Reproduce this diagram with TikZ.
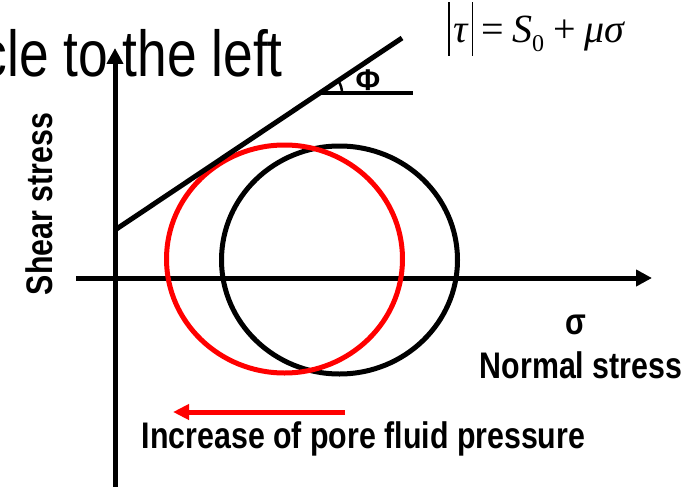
\documentclass[tikz,border=0pt]{standalone}
\usepackage{fontspec}
\setmainfont{Liberation Sans}
\newfontfamily\narrowfont[FakeStretch=0.82]{Liberation Sans}
\newfontfamily\formfont{Liberation Serif}
\usetikzlibrary{arrows.meta}
\begin{document}
\begin{tikzpicture}[x=1pt,y=-1pt,
  thick line/.style={line width=5pt},
  axisline/.style={line width=5pt,-{Triangle[length=16pt,width=16pt]}},
  lab/.style={font=\narrowfont\bfseries\fontsize{37}{40}\selectfont,inner sep=0pt},
  toptext/.style={font=\narrowfont\fontsize{65}{70}\selectfont,inner sep=0pt},
  form/.style={font=\formfont\fontsize{40}{42}\selectfont,inner sep=0pt},
  redc/.style={draw=red,line width=5pt},
  blackc/.style={draw=black,line width=5pt}]
\useasboundingbox (0,0) rectangle (696,487);
% top clipped text
\node[toptext,anchor=base east] (title) at (283,77) {cle to the left};
% axes
\coordinate (ybot) at (115,487);
\coordinate (ytop) at (115,48);
\coordinate (xleft) at (76,278);
\coordinate (xright) at (652,278);
\draw[axisline] (ybot) -- (ytop);
\draw[axisline] (xleft) -- (xright);
% Mohr circles
\coordinate (cb) at (339.5,260);
\coordinate (cr) at (284.5,259);
\draw[blackc] (cb) ellipse [x radius=118pt, y radius=114pt];
\draw[redc] (cr) ellipse [x radius=118pt, y radius=114pt];
% failure envelope
\coordinate (f0) at (115,230);
\coordinate (f1) at (402,38);
\draw[thick line] (f0) -- (f1);
\coordinate (pa) at (320,93);
\coordinate (pb) at (413,93);
\draw[line width=4.5pt] (pa) -- (pb);
\draw[line width=2.5pt] (pa) ++(22,0) arc[start angle=0,end angle=34,radius=22pt];
\node[font=\bfseries\fontsize{30}{30}\selectfont,inner sep=0pt,anchor=base] (phi) at (368,91) {Φ};
% formula
\node[form,anchor=base] (law) at (537,43) {\rule[-13pt]{1.8pt}{54pt}\hspace{3pt}\textit{τ}\hspace{3pt}\rule[-13pt]{1.8pt}{54pt}\hspace{8pt}=\hspace{8pt}\textit{S}\raisebox{-9pt}{\fontsize{24}{24}\selectfont 0}\hspace{9pt}+\hspace{9pt}\textit{μσ}};
% labels
\node[lab,rotate=90,anchor=base] (shear) at (52,204) {Shear stress};
\node[lab] (sig) at (576,325) {σ};
\node[lab,anchor=base] (normal) at (581,378) {Normal stress};
\node[lab,anchor=base] (pore) at (363.5,448) {Increase of pore fluid pressure};
% red arrow
\coordinate (ra) at (345,412);
\coordinate (rb) at (173,412);
\draw[draw=red,line width=5pt,-{Triangle[length=16pt,width=15pt]}] (ra) -- (rb);
\end{tikzpicture}
\end{document}
